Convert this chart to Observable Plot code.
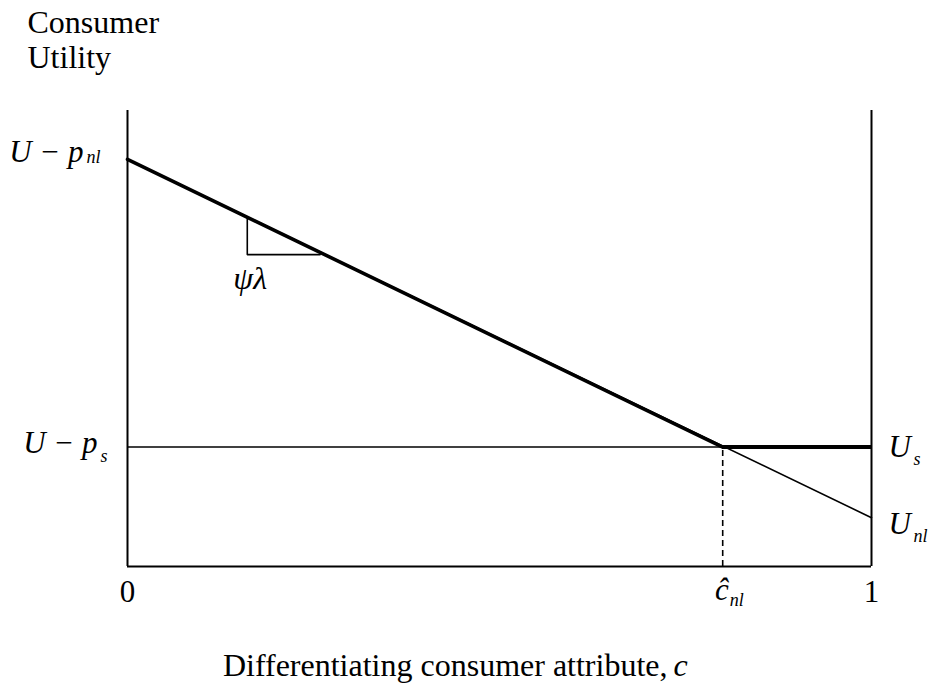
<!DOCTYPE html>
<html>
<head>
<meta charset="utf-8">
<script src="https://cdn.jsdelivr.net/npm/d3@7"></script>
<script src="https://cdn.jsdelivr.net/npm/@observablehq/plot@0.6"></script>
<style>
  html, body { margin: 0; padding: 0; background: #fff; }
  svg { font-family: "Liberation Serif", "Times New Roman", serif; }
</style>
</head>
<body>
<div id="chart"></div>
<script>
// ---- data (abstract units: c in [0,1], utility in [0,1]) ----
const axisTop = 1.0;          // height of the two vertical axes
const uPnl = 0.893;           // U - p_nl at c = 0
const uPs = 0.262;            // U - p_s (flat standard-product utility)
const uNlEnd = 0.107;         // U_nl at c = 1
const cHat = 0.8;             // crossing point ĉ_nl

const nlLine = [{c: 0, u: uPnl}, {c: 1, u: uNlEnd}];
const nlThick = [{c: 0, u: uPnl}, {c: cHat, u: uPs}];
const slopeTriangle = [{c: 0.161, u: 0.766}, {c: 0.161, u: 0.684}, {c: 0.259, u: 0.684}];

const labelPnl = [{u: uPnl, main: "U − p", sub: "nl"}];
const labelPs = [{u: uPs, main: "U − p", sub: "s"}];
const labelUs = [{u: uPs, main: "U", sub: "s"}];
const labelUnl = [{u: uNlEnd, main: "U", sub: "nl"}];
const xTicks = [{c: 0, label: "0"}, {c: 1, label: "1"}];
const xHat = [{c: cHat, main: "ĉ", sub: "nl"}];
const slopeLabel = [{c: 0.161, u: 0.684, label: "ψλ"}];
const yTitle1 = ["Consumer"];
const yTitle2 = ["Utility"];
const xTitle = ["Differentiating consumer attribute,"];
const xTitleVar = ["c"];

const M = 31, S = 18, T = 32; // font sizes: math, subscript, text

const k = {fill: "#000"};
const chart = Plot.plot({
  width: 929,
  height: 683,
  marginLeft: 127,
  marginRight: 58,
  marginTop: 110,
  marginBottom: 117,
  style: {fontFamily: "Liberation Serif", background: "#fff"},
  x: {domain: [0, 1], axis: null},
  y: {domain: [0, 1], axis: null},
  marks: [
    // frame: two verticals + bottom
    Plot.ruleX([0, 1], {y1: 0, y2: axisTop, stroke: "#000", strokeWidth: 2}),
    Plot.ruleY([0], {x1: 0, x2: 1, stroke: "#000", strokeWidth: 2}),
    // standard product utility (thin full length)
    Plot.ruleY([uPs], {x1: 0, x2: 1, stroke: "#000", strokeWidth: 1.6}),
    // non-linear product utility (thin full length)
    Plot.line(nlLine, {x: "c", y: "u", stroke: "#000", strokeWidth: 1.6}),
    // upper envelope (thick)
    Plot.line(nlThick, {x: "c", y: "u", stroke: "#000", strokeWidth: 3.6}),
    Plot.ruleY([uPs], {x1: cHat, x2: 1, stroke: "#000", strokeWidth: 4}),
    // dashed drop line
    Plot.ruleX([cHat], {y1: 0, y2: uPs, stroke: "#000", strokeWidth: 1.6, strokeDasharray: "6,4"}),
    // slope triangle
    Plot.line(slopeTriangle, {x: "c", y: "u", stroke: "#000", strokeWidth: 1.6}),
    Plot.text(slopeLabel, {x: "c", y: "u", text: "label", dx: -14, dy: 24, textAnchor: "start", fontSize: T, fontStyle: "italic", ...k}),
    // left labels
    Plot.text(labelPnl, {x: 0, y: "u", text: "main", textAnchor: "end", dx: -44, dy: -7, fontSize: M, fontStyle: "italic", ...k}),
    Plot.text(labelPnl, {x: 0, y: "u", text: "sub", textAnchor: "start", dx: -41, dy: -2, fontSize: S, fontStyle: "italic", ...k}),
    Plot.text(labelPs, {x: 0, y: "u", text: "main", textAnchor: "end", dx: -30, dy: -4, fontSize: M, fontStyle: "italic", ...k}),
    Plot.text(labelPs, {x: 0, y: "u", text: "sub", textAnchor: "start", dx: -27, dy: 9, fontSize: S, fontStyle: "italic", ...k}),
    // right labels
    Plot.text(labelUs, {x: 1, y: "u", text: "main", textAnchor: "start", dx: 17, dy: 0, fontSize: M, fontStyle: "italic", ...k}),
    Plot.text(labelUs, {x: 1, y: "u", text: "sub", textAnchor: "start", dx: 42, dy: 12, fontSize: S, fontStyle: "italic", ...k}),
    Plot.text(labelUnl, {x: 1, y: "u", text: "main", textAnchor: "start", dx: 17, dy: 6, fontSize: M, fontStyle: "italic", ...k}),
    Plot.text(labelUnl, {x: 1, y: "u", text: "sub", textAnchor: "start", dx: 42, dy: 19, fontSize: S, fontStyle: "italic", ...k}),
    // x ticks
    Plot.text(xTicks, {x: "c", y: 0, text: "label", dy: 26, fontSize: M, ...k}),
    Plot.text(xHat, {x: "c", y: 0, text: "main", textAnchor: "end", dx: 6, dy: 24, fontSize: M, fontStyle: "italic", ...k}),
    Plot.text(xHat, {x: "c", y: 0, text: "sub", textAnchor: "start", dx: 7, dy: 34, fontSize: S, fontStyle: "italic", ...k}),
    // y title (top-left)
    Plot.text(yTitle1, {frameAnchor: "top-left", lineAnchor: "middle", text: d => d, textAnchor: "start", dx: -100, dy: -88, fontSize: T, ...k}),
    Plot.text(yTitle2, {frameAnchor: "top-left", lineAnchor: "middle", text: d => d, textAnchor: "start", dx: -100, dy: -53, fontSize: T, ...k}),
    // x title (bottom)
    Plot.text(xTitle, {frameAnchor: "bottom", lineAnchor: "middle", text: d => d, textAnchor: "end", dx: 168, dy: 99, fontSize: T, ...k}),
    Plot.text(xTitleVar, {frameAnchor: "bottom", lineAnchor: "middle", text: d => d, textAnchor: "start", dx: 174, dy: 99, fontSize: T, fontStyle: "italic", ...k})
  ]
});
document.getElementById("chart").appendChild(chart);
</script>
</body>
</html>
